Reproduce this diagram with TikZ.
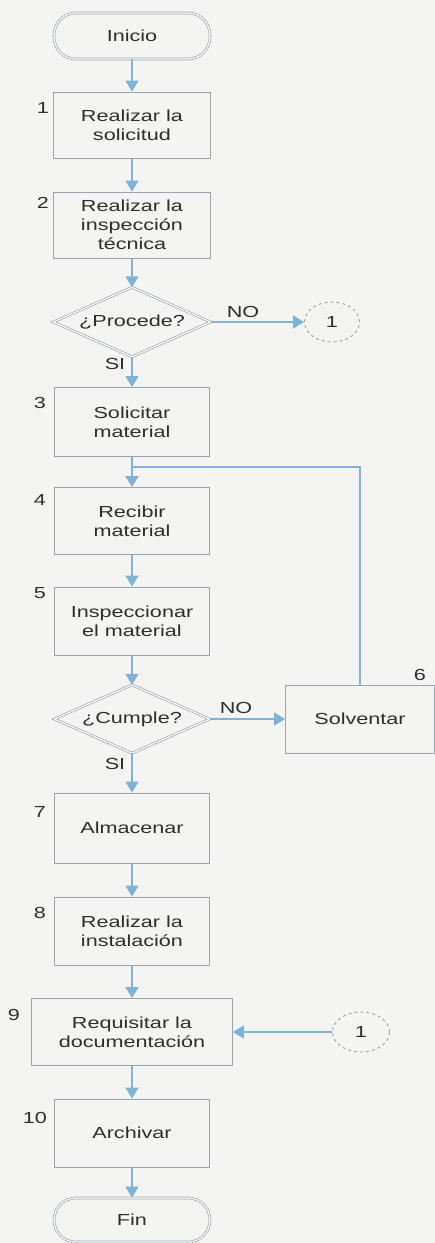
\documentclass[tikz,border=0pt]{standalone}
\usepackage{fontspec}
\setmainfont{Liberation Sans}[FakeStretch=1.35]
\usetikzlibrary{arrows.meta,shapes.geometric}
\definecolor{boxline}{HTML}{9AA4AA}
\definecolor{arrowc}{HTML}{7DB3D8}
\definecolor{txt}{HTML}{2E2E2E}
\definecolor{paper}{HTML}{F4F5F3}
\begin{document}
\begin{tikzpicture}[x=1pt,y=-1pt, font=\fontsize{16}{19}\selectfont, text=txt,
  stepbox/.style={draw=boxline, line width=0.9pt, minimum width=155pt, minimum height=68pt, align=center, inner sep=0pt},
  term/.style={draw=boxline, double=white, double distance=1.2pt, line width=0.7pt, rounded corners=22pt, minimum width=156pt, minimum height=46pt, inner sep=0pt},
  decarea/.style={minimum width=157pt, minimum height=69pt, inner sep=0pt},
  decline/.style={draw=boxline, double=white, double distance=1.2pt, line width=0.7pt},
  conn/.style={ellipse, draw=boxline, dashed, line width=0.9pt, minimum width=55pt, minimum height=40pt, inner sep=0pt},
  flow/.style={draw=arrowc, line width=1.6pt, -{Triangle[length=11pt,width=13pt]}},
  loopline/.style={draw=arrowc, line width=1.1pt},
  num/.style={inner sep=0pt}]
\useasboundingbox (0,0) rectangle (435,1243);
\fill[paper] (0,0) rectangle (435,1243);

\node[term] (inicio) at (132,36) {Inicio};
\node[stepbox, minimum width=157pt, minimum height=66pt] (b1) at (132,125) {Realizar la\\solicitud};
\node[stepbox, minimum width=157pt, minimum height=66pt] (b2) at (132,225) {Realizar la\\inspección\\técnica};
\node[decarea] (d1) at (132,322) {¿Procede?};
\draw[decline] (d1.north) -- (d1.east) -- (d1.south) -- (d1.west) -- cycle;
\node[conn] (c1) at (332,322) {1};
\node[stepbox, minimum height=69pt] (b3) at (132,422) {Solicitar\\material};
\node[stepbox, minimum height=67pt] (b4) at (132,521) {Recibir\\material};
\node[stepbox] (b5) at (132,621) {Inspeccionar\\el material};
\node[decarea, minimum width=155pt, minimum height=68pt] (d2) at (132,719) {¿Cumple?};
\draw[decline] (d2.north) -- (d2.east) -- (d2.south) -- (d2.west) -- cycle;
\node[stepbox, minimum width=149pt] (sol) at (360,719) {Solventar};
\node[stepbox, minimum height=70pt] (b7) at (132,828) {Almacenar};
\node[stepbox] (b8) at (132,931) {Realizar la\\instalación};
\node[stepbox, minimum width=201pt, minimum height=67pt] (b9) at (132,1032) {Requisitar la\\documentación};
\node[conn, minimum width=57pt] (c2) at (361,1032) {1};
\node[stepbox] (b10) at (132,1133) {Archivar};
\node[term, minimum height=44pt] (fin) at (132,1220) {Fin};

\node[num] (n1) at (43,108) {1};
\node[num] (n2) at (43,203) {2};
\node[num] (n3) at (40,403) {3};
\node[num] (n4) at (40,500) {4};
\node[num] (n5) at (40,593) {5};
\node[num] (n6) at (420,675) {6};
\node[num] (n7) at (40,812) {7};
\node[num] (n8) at (40,913) {8};
\node[num] (n9) at (14,1015) {9};
\node[num] (n10) at (35,1118) {10};

\node[num] (no1) at (243,312) {NO};
\node[num] (si1) at (115,364) {SI};
\node[num] (no2) at (236,708) {NO};
\node[num] (si2) at (115,764) {SI};

\coordinate (j) at (132,467);

\draw[flow] (inicio) -- (b1);
\draw[flow] (b1) -- (b2);
\draw[flow] (b2) -- (d1.north);
\draw[flow] (d1.east) -- (c1);
\draw[flow] (d1.south) -- (b3);
\draw[flow] (b3) -- (b4);
\draw[flow] (b4) -- (b5);
\draw[flow] (b5) -- (d2.north);
\draw[flow] (d2.east) -- (sol);
\draw[loopline] (sol.north) |- (j);
\draw[flow] (d2.south) -- (b7);
\draw[flow] (b7) -- (b8);
\draw[flow] (b8) -- (b9);
\draw[flow] (c2) -- (b9);
\draw[flow] (b9) -- (b10);
\draw[flow] (b10) -- (fin);
\end{tikzpicture}
\end{document}
